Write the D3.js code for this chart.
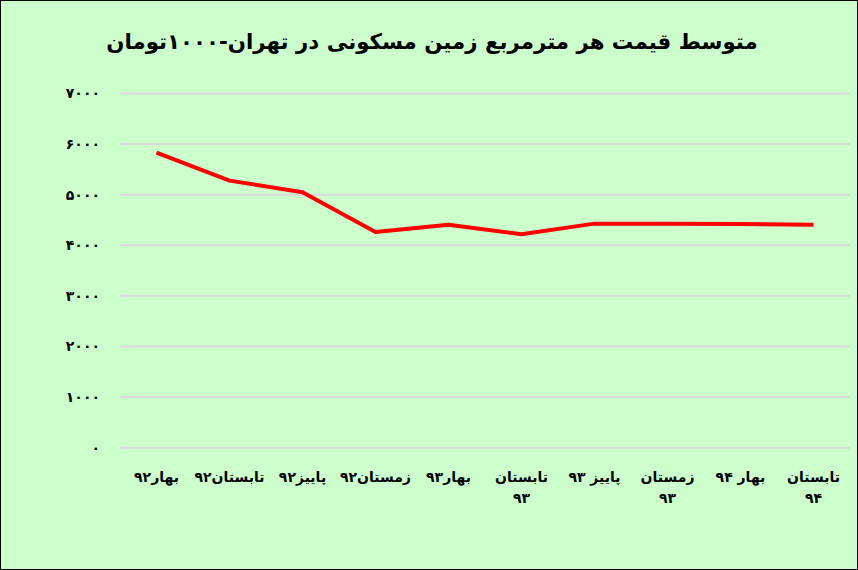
<!DOCTYPE html>
<html><head><meta charset="utf-8">
<script src="https://cdn.jsdelivr.net/npm/d3@7"></script>
<style>
html,body{margin:0;padding:0;background:#fff;}
svg{display:block;}
</style></head>
<body>
<script>
const title = "متوسط قیمت هر مترمربع زمین مسکونی در تهران-۱۰۰۰تومان";
const categories = ["بهار۹۲","تابستان۹۲","پاییز۹۲","زمستان۹۲","بهار۹۳","تابستان\n۹۳","پاییز ۹۳","زمستان\n۹۳","بهار ۹۴","تابستان\n۹۴"];
const values = [5830, 5277, 5047, 4263, 4407, 4217, 4427, 4427, 4420, 4407];
const yTicks = [0, 1000, 2000, 3000, 4000, 5000, 6000, 7000];
const yTickLabels = ["۰","۱۰۰۰","۲۰۰۰","۳۰۰۰","۴۰۰۰","۵۰۰۰","۶۰۰۰","۷۰۰۰"];

const W = 858, H = 570;
const svg = d3.select("body").append("svg").attr("width", W).attr("height", H);
svg.append("rect").attr("x",0.5).attr("y",0.5).attr("width",W-1).attr("height",H-1)
  .attr("fill","#CCFFCC").attr("stroke","#000").attr("stroke-width",1);

const x = d3.scaleBand().domain(categories).range([120, 850]).padding(0);
const y = d3.scaleLinear().domain([0, 7000]).range([447.7, 93.4]);
const cx = d => x(d) + x.bandwidth()/2;

// gridlines
svg.append("g").selectAll("line").data(yTicks).join("line")
  .attr("x1", 120).attr("x2", 850)
  .attr("y1", d => y(d)).attr("y2", d => y(d))
  .attr("stroke", "#d9d9d9").attr("stroke-width", 2);

// y labels
svg.append("g").selectAll("text").data(yTicks).join("text")
  .attr("x", 100).attr("y", d => y(d)).attr("dy", "0.35em")
  .attr("text-anchor", "end")
  .attr("font-family", "DejaVu Sans").attr("font-size", 14).attr("font-weight","bold")
  .attr("letter-spacing", 3)
  .attr("fill", "#000")
  .text((d,i) => yTickLabels[i]);

// x labels
const xl = svg.append("g").selectAll("text").data(categories).join("text")
  .attr("x", d => cx(d)).attr("y", 482)
  .attr("text-anchor", "middle").attr("direction","rtl")
  .attr("font-family", "DejaVu Sans").attr("font-size", 14).attr("font-weight","bold")
  .attr("fill", "#000");
xl.each(function(d){
  const lines = d.split("\n");
  d3.select(this).selectAll("tspan").data(lines).join("tspan")
    .attr("x", cx(d)).attr("dy", (l,i) => i === 0 ? 0 : 21)
    .text(l => l);
});

// line
svg.append("path").datum(values)
  .attr("fill","none").attr("stroke","#FF0000").attr("stroke-width",4)
  .attr("stroke-linejoin","round")
  .attr("d", d3.line().x((v,i) => cx(categories[i])).y(v => y(v)));

// title
svg.append("text").attr("x", 432).attr("y", 49)
  .attr("text-anchor","middle").attr("direction","rtl")
  .attr("font-family","DejaVu Sans").attr("font-size",21.3).attr("font-weight","bold")
  .attr("fill","#000").text(title);
</script>
</body></html>
